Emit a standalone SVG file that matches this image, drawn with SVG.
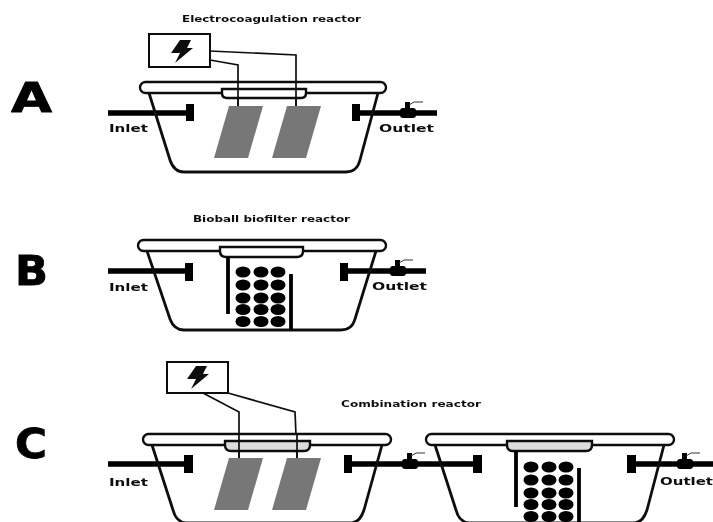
<svg xmlns="http://www.w3.org/2000/svg" xmlns:xlink="http://www.w3.org/1999/xlink" width="713" height="522" viewBox="0 0 713 522">
<style>
text{font-family:"DejaVu Sans","Liberation Sans",sans-serif;font-weight:700;fill:#111}
.title{font-size:8px}
.lab{font-size:11px}
.big{font-size:40px;fill:#000;stroke:#000;stroke-width:.8}
.tub,.lid,.box,.wire{fill:none;stroke:#111}
.tub{stroke-width:2.8;stroke-linejoin:round}
.lid{fill:#fff;stroke-width:2.4}
.box{fill:#fff;stroke-width:2}
.wire{stroke-width:1.7}
.pipe{stroke:#000;stroke-width:5.400;fill:none}
.baffle{stroke:#000;stroke-width:3.800;fill:none}
.flange{fill:#000}
.plate{fill:#777}
.grey{fill:#dcdcdc}
</style>
<defs>
<filter id="soft" x="0" y="0" width="100%" height="100%"><feGaussianBlur stdDeviation="0.4"/></filter>
<g id="valve">
<rect x="-8" y="-5" width="16" height="10" rx="3" fill="#000"/>
<rect x="-3" y="-11" width="5" height="7" fill="#000"/>
<path d="M1-8 L6-11 H15" fill="none" stroke="#333" stroke-width="1"/>
</g>
<path id="bolt" d="M-1-11 H10 L6-3 H12 L-6 12 L-1 2 H-10 Z" fill="#111"/>
<g id="balls">
<ellipse cx="0" cy="0" rx="7.500" ry="5.600"/><ellipse cx="18" cy="0" rx="7.500" ry="5.600"/><ellipse cx="35" cy="0" rx="7.500" ry="5.600"/>
<ellipse cx="0" cy="13" rx="7.500" ry="5.600"/><ellipse cx="18" cy="13" rx="7.500" ry="5.600"/><ellipse cx="35" cy="13" rx="7.500" ry="5.600"/>
<ellipse cx="0" cy="26" rx="7.500" ry="5.600"/><ellipse cx="18" cy="26" rx="7.500" ry="5.600"/><ellipse cx="35" cy="26" rx="7.500" ry="5.600"/>
<ellipse cx="0" cy="37.500" rx="7.500" ry="5.600"/><ellipse cx="18" cy="37.500" rx="7.500" ry="5.600"/><ellipse cx="35" cy="37.500" rx="7.500" ry="5.600"/>
<ellipse cx="0" cy="49.500" rx="7.500" ry="5.600"/><ellipse cx="18" cy="49.500" rx="7.500" ry="5.600"/><ellipse cx="35" cy="49.500" rx="7.500" ry="5.600"/>
</g>
</defs>
<rect width="713" height="522" fill="#fff"/>
<g filter="url(#soft)">

<g id="labels">
<text class="big" x="11" y="112" textLength="41" lengthAdjust="spacingAndGlyphs">A</text>
<text class="big" x="15" y="285" textLength="33" lengthAdjust="spacingAndGlyphs">B</text>
<text class="big" x="15" y="458" textLength="32" lengthAdjust="spacingAndGlyphs">C</text>
<text class="title" x="182" y="22" textLength="179" lengthAdjust="spacingAndGlyphs">Electrocoagulation reactor</text>
<text class="title" x="193" y="222" textLength="157" lengthAdjust="spacingAndGlyphs">Bioball biofilter reactor</text>
<text class="title" x="341" y="407" textLength="140" lengthAdjust="spacingAndGlyphs">Combination reactor</text>
</g>

<g id="connectors">
<path class="pipe" d="M108 113H190M360 113H437"/>
<path class="pipe" d="M108 271H190M348 271H426"/>
<path class="pipe" d="M108 464H190M352 464H478M636 464H713"/>
<path class="wire" d="M210 60L238 65V106M210 51L296 55V106"/>
<path class="wire" d="M203 393L239 412V458M228 393L295 412L297 458"/>
</g>

<g id="reactor-a">
<path class="tub" d="M149 93L170 160Q174 172 184 172H346Q357 172 360 160L378 93"/>
<rect class="lid" x="140" y="82" width="246" height="11" rx="5.500"/>
<path class="lid" d="M222 89H306V93Q306 98 301 98H227Q222 98 222 93Z"/>
<path class="wire" d="M238 82V106M296 82V106"/>
<path class="plate" d="M229 106H263L248 158H214Z"/>
<path class="plate" d="M287 106H321L306 158H272Z"/>
<rect class="flange" x="186" y="104" width="8" height="17"/>
<rect class="flange" x="352" y="104" width="8" height="17"/>
<use xlink:href="#valve" href="#valve" x="408" y="113"/>
<text class="lab" x="109" y="132" textLength="39" lengthAdjust="spacingAndGlyphs">Inlet</text>
<text class="lab" x="379" y="132" textLength="55" lengthAdjust="spacingAndGlyphs">Outlet</text>
</g>
<g id="power-a">
<rect class="box" x="149" y="34" width="61" height="33"/>
<use xlink:href="#bolt" href="#bolt" x="181" y="51"/>
</g>

<g id="reactor-b">
<path class="tub" d="M147 251L170 319Q174 330 184 330H341Q352 330 355 319L376 251"/>
<rect class="lid" x="138" y="240" width="248" height="11" rx="5.500"/>
<path class="lid" d="M220 247H303V251Q303 257 297 257H226Q220 257 220 251Z"/>
<path class="baffle" d="M228 257V314M291 274V331"/>
<use xlink:href="#balls" href="#balls" x="243" y="272"/>
<rect class="flange" x="185" y="263" width="8" height="18"/>
<rect class="flange" x="340" y="263" width="8" height="18"/>
<use xlink:href="#valve" href="#valve" x="398" y="271"/>
<text class="lab" x="109" y="291" textLength="39" lengthAdjust="spacingAndGlyphs">Inlet</text>
<text class="lab" x="372" y="290" textLength="55" lengthAdjust="spacingAndGlyphs">Outlet</text>
</g>

<g id="reactor-c1">
<path class="tub" d="M152 445L173 510Q176 522 186 523H352Q360 522 364 510L382 445"/>
<rect class="lid" x="143" y="434" width="248" height="11" rx="5.500"/>
<path class="lid grey" d="M225 441H310V445Q310 451 304 451H231Q225 451 225 445Z"/>
<path class="wire" d="M239 434V458M297 434V458"/>
<path class="plate" d="M229 458H263L248 510H214Z"/>
<path class="plate" d="M287 458H321L306 510H272Z"/>
<rect class="flange" x="184" y="455" width="9" height="18"/>
<rect class="flange" x="344" y="455" width="8" height="18"/>
<use xlink:href="#valve" href="#valve" x="410" y="464"/>
<text class="lab" x="109" y="486" textLength="39" lengthAdjust="spacingAndGlyphs">Inlet</text>
</g>
<g id="power-c">
<rect class="box" x="167" y="362" width="61" height="31"/>
<use xlink:href="#bolt" href="#bolt" x="197" y="377"/>
</g>

<g id="reactor-c2">
<path class="tub" d="M435 445L456 510Q459 522 469 523H635Q643 522 647 510L664 445"/>
<rect class="lid" x="426" y="434" width="248" height="11" rx="5.500"/>
<path class="lid grey" d="M507 441H592V445Q592 451 586 451H513Q507 451 507 445Z"/>
<path class="baffle" d="M516 451V507M579 468V522"/>
<use xlink:href="#balls" href="#balls" x="531" y="467"/>
<rect class="flange" x="473" y="455" width="9" height="18"/>
<rect class="flange" x="627" y="455" width="9" height="18"/>
<use xlink:href="#valve" href="#valve" x="685" y="464"/>
<text class="lab" x="660" y="485" textLength="53" lengthAdjust="spacingAndGlyphs">Outlet</text>
</g>
</g>
</svg>
